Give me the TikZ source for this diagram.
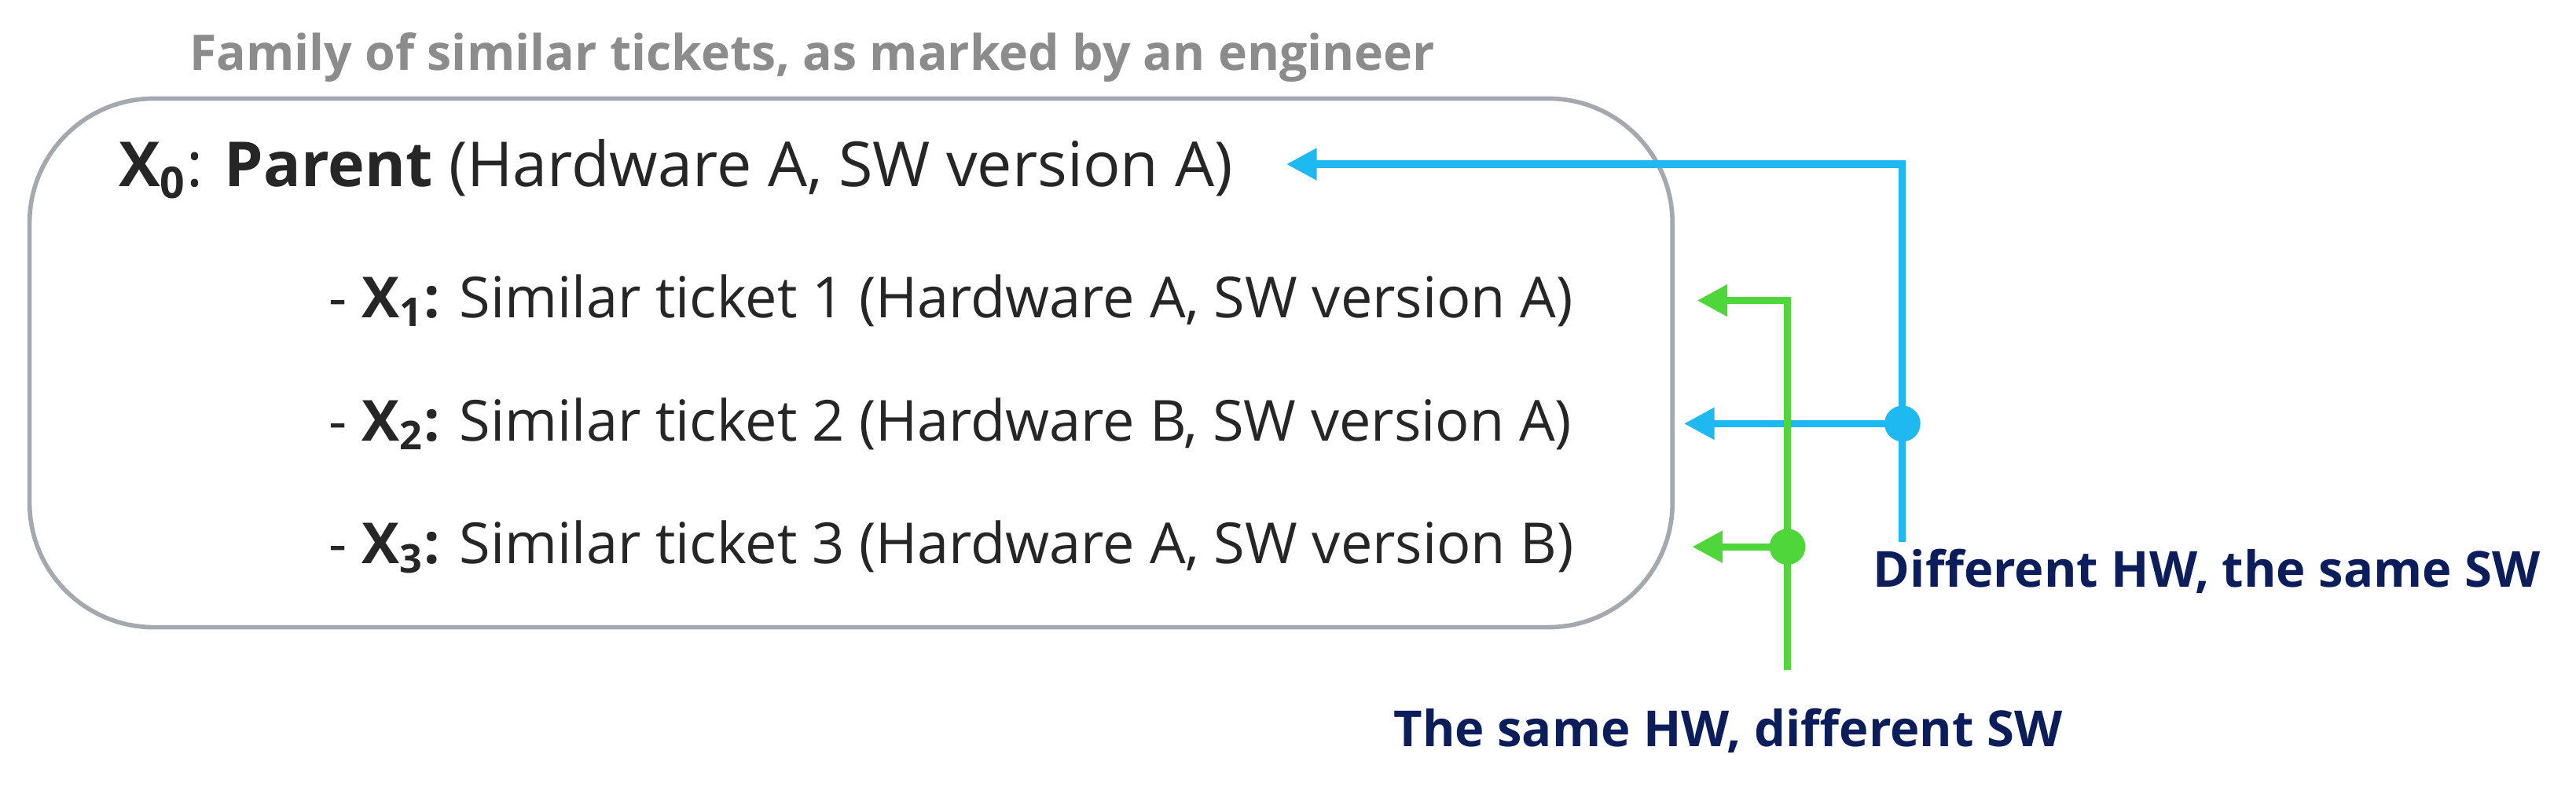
\documentclass[tikz,border=0pt]{standalone}
\usepackage{fontspec}
\setmainfont{Open Sans}
\usetikzlibrary{arrows.meta}
\definecolor{cblue}{HTML}{1EB9F0}
\definecolor{cgreen}{HTML}{4ED63A}
\definecolor{navy}{HTML}{0B1D5A}
\definecolor{tgray}{HTML}{8C8C8C}
\definecolor{bgray}{HTML}{A4A9B0}
\tikzset{line/.style={inner sep=0pt,anchor=west,font=\fontsize{20.5}{24}\selectfont,text=black!85},
 lab/.style={inner sep=0pt,anchor=west,font=\fontsize{18}{21}\selectfont\bfseries,text=navy},
 conn/.style={line width=2.6pt,-{Triangle[length=11pt,width=11pt]}},
 dotc/.style={circle,inner sep=0pt,minimum size=13pt}}
\begin{document}
\begin{tikzpicture}[x=0.020906cm,y=-0.020906cm]
\useasboundingbox (0,0) rectangle (1568,479);
\node[inner sep=0pt,anchor=west,font=\fontsize{17.8}{20}\selectfont\bfseries,text=tgray] (title) at (115,35) {Family of similar tickets, as marked by an engineer};
\draw[bgray,line width=1.6pt,rounded corners=45] (18,60) rectangle (1018,382);
\node[line,font=\fontsize{22.5}{26}\selectfont] (x0) at (72,103) {\textbf{X\textsubscript{0}}: \textbf{Parent} (Hardware A, SW version A)};
\node[line] (x1) at (200,183) {- \textbf{X\textsubscript{1}:} Similar ticket 1 (Hardware A, SW version A)};
\node[line] (x2) at (200,258) {- \textbf{X\textsubscript{2}:} Similar ticket 2 (Hardware B, SW version A)};
\node[line] (x3) at (200,333) {- \textbf{X\textsubscript{3}:} Similar ticket 3 (Hardware A, SW version B)};
\node[lab] (lb) at (1140,348) {Different HW, the same SW};
\node[lab] (lg) at (848,445) {The same HW, different SW};
% blue
\coordinate (bb) at (1158,330);
\coordinate (b0) at (783,100);
\coordinate (b2) at (1025,258);
\node[dotc,fill=cblue] (bd) at (1158,258) {};
\draw[conn,cblue] (bb) |- (b0);
\draw[conn,cblue] (bd.center) -- (b2);
% green
\coordinate (gb) at (1088,408);
\coordinate (g1) at (1033,183);
\coordinate (g3) at (1030,333);
\node[dotc,fill=cgreen] (gd) at (1088,333) {};
\draw[conn,cgreen] (gb) |- (g1);
\draw[conn,cgreen] (gd.center) -- (g3);
\end{tikzpicture}
\end{document}
